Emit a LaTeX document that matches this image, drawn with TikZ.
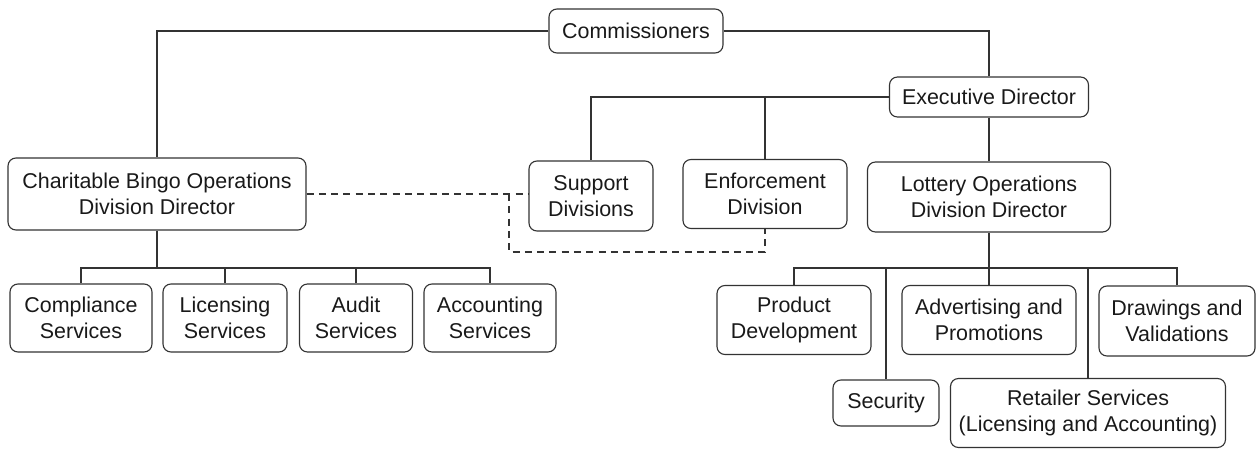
\documentclass[tikz,border=0pt]{standalone}
\usepackage{fontspec}
\setmainfont{Liberation Sans}
\usetikzlibrary{positioning}

\begin{document}
\begin{tikzpicture}[x=0.02cm, y=-0.02cm, line width=0.65pt, draw=black!80, every node/.style={align=center, text=black!90, font=\fontsize{12.2}{14.8}\selectfont}, box/.style={draw, rounded corners=4.5pt, inner sep=0pt}]
\useasboundingbox (0,0) rectangle (1257,449);

\node (C) [box, minimum width=3.48cm, minimum height=0.88cm] at (636,31) {Commissioners};
\node (ED) [box, minimum width=3.98cm, minimum height=0.80cm] at (989,97) {Executive Director};
\node (CB) [box, minimum width=5.96cm, minimum height=1.44cm] at (157,194) {Charitable Bingo Operations\\Division Director};
\node (SD) [box, minimum width=2.48cm, minimum height=1.40cm] at (591,196) {Support\\Divisions};
\node (EN) [box, minimum width=3.28cm, minimum height=1.38cm] at (765,194) {Enforcement\\Division};
\node (LO) [box, minimum width=4.86cm, minimum height=1.40cm] at (989,197) {Lottery Operations\\Division Director};

\node (CS) [box, minimum width=2.84cm, minimum height=1.36cm] at (81,318) {Compliance\\Services};
\node (LS) [box, minimum width=2.48cm, minimum height=1.36cm] at (225,318) {Licensing\\Services};
\node (AS) [box, minimum width=2.26cm, minimum height=1.36cm] at (356,318) {Audit\\Services};
\node (AC) [box, minimum width=2.64cm, minimum height=1.36cm] at (490,318) {Accounting\\Services};

\node (PD) [box, minimum width=3.08cm, minimum height=1.38cm] at (794,320) {Product\\Development};
\node (AP) [box, minimum width=3.48cm, minimum height=1.38cm] at (989,320) {Advertising and\\Promotions};
\node (DV) [box, minimum width=3.12cm, minimum height=1.40cm] at (1177,321) {Drawings and\\Validations};
\node (SE) [box, minimum width=2.12cm, minimum height=0.92cm] at (886,403) {Security};
\node (RS) [box, minimum width=5.50cm, minimum height=1.38cm] at (1088,413) {Retailer Services\\(Licensing and Accounting)};

\coordinate (cbus) at (157,268);
\coordinate (lbus) at (989,268);
\coordinate (dj) at (509,194);
\coordinate (dl) at (509,252);

\draw (C.west) -| (CB.north);
\draw (C.east) -| (ED.north);
\draw (ED.west) -| (SD.north);
\draw (EN.north) -- (EN.north |- ED.west);
\draw (ED.south) -- (LO.north);

\draw (CB.south) -- (cbus);
\draw (CS.north) |- (cbus) -| (AC.north);
\draw (LS.north) -- (LS.north |- cbus);
\draw (AS.north) -- (AS.north |- cbus);

\draw (LO.south) -- (AP.north);
\draw (PD.north) |- (lbus) -| (DV.north);
\draw (SE.north) -- (SE.north |- lbus);
\draw (RS.north) -- (RS.north |- lbus);

\draw[dash pattern=on 4pt off 3pt] (CB.east) -- (CB.east -| SD.west);
\draw[dash pattern=on 4pt off 3pt] (dj) -- (dl) -| (EN.south);
\end{tikzpicture}
\end{document}
